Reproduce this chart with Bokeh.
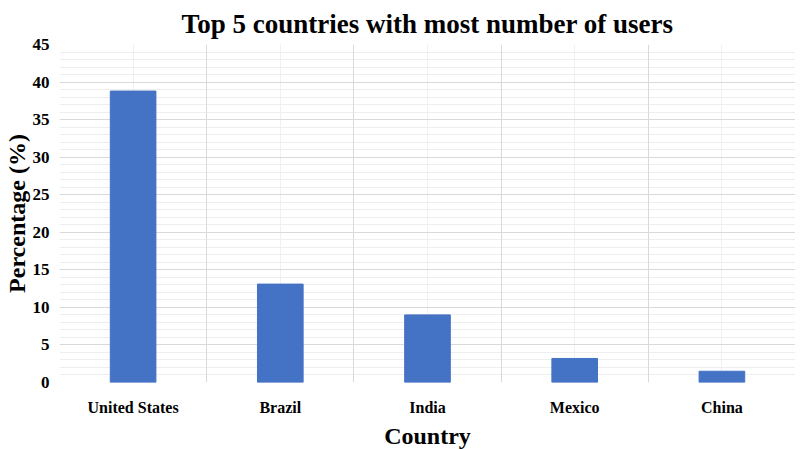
from bokeh.plotting import figure
from bokeh.models import SingleIntervalTicker, FixedTicker, Grid, FactorRange, Range1d
from bokeh.embed import file_html
from bokeh.resources import INLINE

countries = ["United States", "Brazil", "India", "Mexico", "China"]
percentages = [38.8, 13.1, 9.0, 3.2, 1.5]
y_ticks_interval = 5

FONT = "Liberation Serif"

p = figure(x_range=FactorRange(*countries, range_padding=0), y_range=Range1d(0, 45),
           frame_width=736, frame_height=338, output_backend="svg",
           toolbar_location=None, title="Top 5 countries with most number of users",
           min_border_left=0, min_border_right=0, min_border_top=0, min_border_bottom=0)
p.outline_line_color = None
p.vbar(x=countries, top=percentages, width=0.31, color="#4472C4")

p.title.align = "center"
p.title.text_font = FONT
p.title.text_font_size = "27px"
p.title.text_font_style = "bold"
p.title.text_color = "black"
p.title.offset = -25
p.title.standoff = 12

for ax in (p.xaxis[0], p.yaxis[0]):
    ax.axis_line_color = None
    ax.major_tick_line_color = None
    ax.minor_tick_line_color = None
    ax.major_label_text_font = FONT
    ax.major_label_text_font_style = "bold"
    ax.major_label_text_color = "black"
    ax.axis_label_text_font = FONT
    ax.axis_label_text_font_style = "bold"
    ax.axis_label_text_color = "black"
    ax.axis_label_text_font_size = "24px"

p.xaxis.axis_label = "Country"
p.yaxis.axis_label = "Percentage (%)"
p.xaxis.major_label_text_font_size = "16px"
p.yaxis.major_label_text_font_size = "17px"
p.xaxis.major_label_standoff = 10
p.yaxis.major_label_standoff = 4
p.xaxis.axis_label_standoff = 4
p.yaxis.axis_label_standoff = 0

p.yaxis.ticker = SingleIntervalTicker(interval=y_ticks_interval, num_minor_ticks=5)
p.ygrid.grid_line_color = "#d9d9d9"
p.ygrid.minor_grid_line_color = "#eeeeee"

p.xgrid.grid_line_color = "#f0f0f0"
bounds = Grid(dimension=0, ticker=FixedTicker(ticks=[0, 1, 2, 3, 4, 5]), grid_line_color="#d9d9d9")
p.add_layout(bounds)

open("out.html", "w").write(file_html(p, INLINE))
